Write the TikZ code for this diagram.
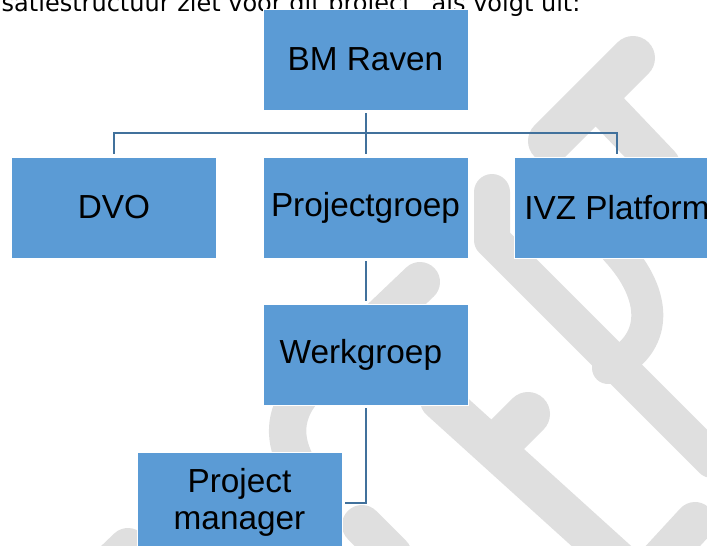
\documentclass[tikz,border=0pt]{standalone}
\usepackage{fontspec}
\setmainfont{Liberation Sans}
\newfontfamily\introfont{DejaVu Sans}
\definecolor{boxblue}{HTML}{5B9BD5}
\definecolor{linkblue}{HTML}{41719C}
\definecolor{wmgray}{HTML}{DFDFDF}

\begin{document}
\begin{tikzpicture}[x=0.75pt,y=-0.75pt,
  unit/.style={fill=boxblue,draw=white,line width=0.75pt,minimum width=153.75pt,
    minimum height=75.75pt,inner sep=0pt,outer sep=0pt,align=center,
    font=\fontsize{25}{27.5}\selectfont},
  link/.style={draw=linkblue,line width=1.5pt,shorten <=2.25pt,shorten >=2.25pt},
  wm/.style={draw=wmgray,line cap=round,line join=round}]
\useasboundingbox (0,0) rectangle (707,546);
\draw[wm,line width=33pt] (633,58) -- (550,141);
\draw[wm,line width=30pt] (600,102) -- (660,165);
\draw[wm,line width=27pt] (492,192) -- (492,240) -- (712,460);
\draw[wm,line width=24pt] (616,250) .. controls (658,295) and (660,345) .. (608,368);
\draw[wm,line width=30pt] (440,400) -- (650,590);
\draw[wm,line width=33pt] (500,442) -- (528,414);
\draw[wm,line width=30pt] (378,322) -- (420,282);
\draw[wm,line width=28pt] (300,395) .. controls (282,420) and (285,445) .. (300,470);
\draw[wm,line width=30pt] (362,525) -- (392,555);
\draw[wm,line width=30pt] (105,570) -- (128,548);
\draw[wm,line width=30pt] (695,522) -- (660,560);
\node[anchor=base west,font=\introfont\fontsize{18}{20}\selectfont] (intro) at (-3,12)
  {satiestructuur ziet voor dit project” als volgt uit:};
\foreach \x/\y/\name/\txt in {
  365.5/59.5/bm/BM Raven,
  114/207.5/dvo/DVO,
  365.5/207.5/pg/Projectgroep,
  617/207.5/ivz/IVZ Platform,
  365.5/354.5/wg/Werkgroep
}{
  \node[unit] (\name) at (\x,\y) {\txt};
}
\node[unit] (pm) at (239.5,502.5) {Project\\manager};
\draw[link] (bm.south) -- ++(0,23) -| (dvo.north);
\draw[link] (bm.south) -- (pg.north);
\draw[link] (bm.south) -- ++(0,23) -| (ivz.north);
\draw[link] (pg.south) -- (wg.north);
\draw[link] (wg.south) |- (pm.east);
\end{tikzpicture}
\end{document}
